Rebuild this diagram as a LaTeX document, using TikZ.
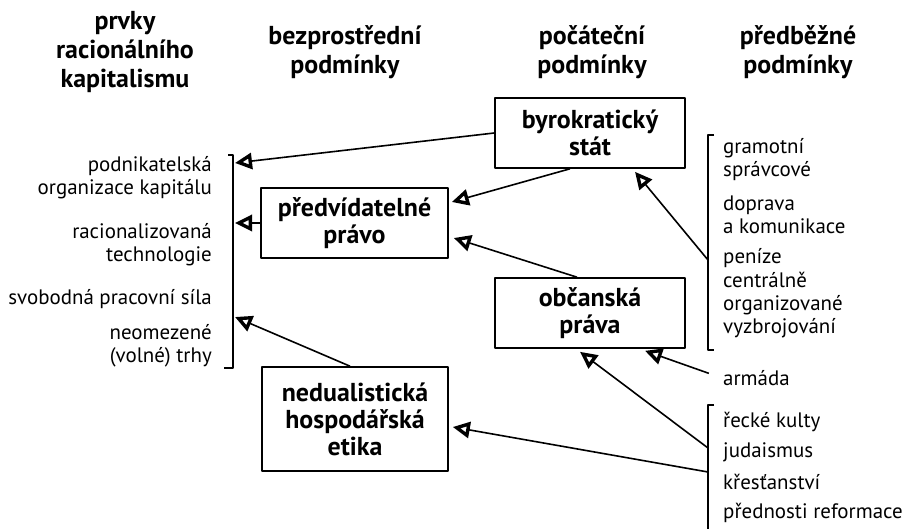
\documentclass[tikz,border=0pt]{standalone}
\usepackage{fontspec}
\setmainfont{PT Sans}
\usetikzlibrary{arrows.meta,calc}
\tikzset{
  box/.style={draw=black,rectangle,line width=1.6bp,align=center,font=\bfseries\fontsize{26}{27}\selectfont},
  head/.style={align=center,font=\bfseries\fontsize{26}{29}\selectfont},
  item/.style={inner sep=1bp,font=\fontsize{21}{23}\selectfont},
  arr/.style={line width=1.6bp,-{Triangle[open,length=17bp,width=16bp,line width=3.4bp]}},
  brace/.style={line width=1.6bp},
}
\begin{document}
\begin{tikzpicture}[>=latex,line join=bevel,]
    \useasboundingbox (0bp,0bp) rectangle (909bp,529bp);
    %% column heads
    \node (h1) at (125.0bp,477.0bp) [head] {prvky\\racionálního\\kapitalismu};
    \node (h2) at (345.0bp,477.0bp) [head] {bezprostřední\\podmínky};
    \node (h3) at (592.0bp,477.0bp) [head] {počáteční\\podmínky};
    \node (h4) at (798.0bp,477.0bp) [head] {předběžné\\podmínky};
    %% boxes
    \node (stat) at (590.0bp,396.0bp) [box,minimum width=190bp,minimum height=70bp] {byrokratický\\stát};
    \node (pravo) at (354.5bp,306.0bp) [box,minimum width=187bp,minimum height=70bp] {předvídatelné\\právo};
    \node (obcan) at (590.0bp,216.0bp) [box,minimum width=190bp,minimum height=70bp] {občanská\\práva};
    \node (etika) at (355.0bp,110.0bp) [box,minimum width=186bp,minimum height=104bp] {nedualistická\\hospodářská\\etika};
    %% left list
    \node (podnik) at (213.0bp,351.0bp) [item,anchor=east,align=right] {podnikatelská\\organizace kapitálu};
    \node (techno) at (213.0bp,284.0bp) [item,anchor=east,align=right] {racionalizovaná\\technologie};
    \node (sila) at (213.0bp,230.0bp) [item,anchor=east,align=right] {svobodná pracovní síla};
    \node (trhy) at (213.0bp,183.0bp) [item,anchor=east,align=right] {neomezené\\(volné) trhy};
    %% right lists
    \node (sprav) at (722.0bp,369.0bp) [item,anchor=west,align=left] {gramotní\\správcové};
    \node (doprava) at (722.0bp,314.0bp) [item,anchor=west,align=left] {doprava\\a komunikace};
    \node (penize) at (722.0bp,271.0bp) [item,anchor=west,align=left] {peníze};
    \node (zbroj) at (722.0bp,224.0bp) [item,anchor=west,align=left] {centrálně\\organizované\\vyzbrojování};
    \node (armada) at (722.0bp,151.0bp) [item,anchor=west,align=left] {armáda};
    \node (kulty) at (722.0bp,107.0bp) [item,anchor=west,align=left] {řecké kulty};
    \node (judaismus) at (722.0bp,77.0bp) [item,anchor=west,align=left] {judaismus};
    \node (krest) at (722.0bp,47.0bp) [item,anchor=west,align=left] {křesťanství};
    \node (reform) at (722.0bp,16.0bp) [item,anchor=west,align=left] {přednosti reformace};
    %% brackets
    \draw [brace] (228.0bp,374.0bp) -- (233.0bp,374.0bp) -- (233.0bp,161.0bp) -- (224.0bp,161.0bp);
    \draw [brace] (714.0bp,394.0bp) -- (708.0bp,394.0bp) -- (708.0bp,179.0bp) -- (714.0bp,179.0bp);
    \draw [brace] (714.0bp,124.0bp) -- (708.0bp,124.0bp) -- (708.0bp,0.0bp);
    \coordinate (l1) at (235.0bp,366.0bp);
    \coordinate (l2) at (235.0bp,306.0bp);
    \coordinate (l3) at (235.0bp,212.0bp);
    \coordinate (r1) at (708.0bp,269.0bp);
    \coordinate (r2) at (708.0bp,81.0bp);
    \coordinate (r3) at (708.0bp,57.0bp);
    %% arrows
    \draw [arr] (stat.west) -- (l1);
    \draw [arr] (pravo.west) -- (l2);
    \draw [arr] ($(etika.north)+(-5bp,0bp)$) -- (l3);
    \draw [arr] ($(stat.south)+(-20bp,0bp)$) -- ($(pravo.east)+(3bp,21bp)$);
    \draw [arr] ($(obcan.north)+(-13bp,0bp)$) -- ($(pravo.east)+(5bp,-15bp)$);
    \draw [arr] (r1) -- ($(stat.south)+(45bp,-3bp)$);
    \draw [arr,shorten <=14bp] (armada.west) -- ($(obcan.south)+(55bp,-2bp)$);
    \draw [arr] (r2) -- ($(obcan.south)+(-10bp,-3bp)$);
    \draw [arr] (r3) -- ($(etika.east)+(4bp,-8bp)$);
    %
\end{tikzpicture}
\end{document}
